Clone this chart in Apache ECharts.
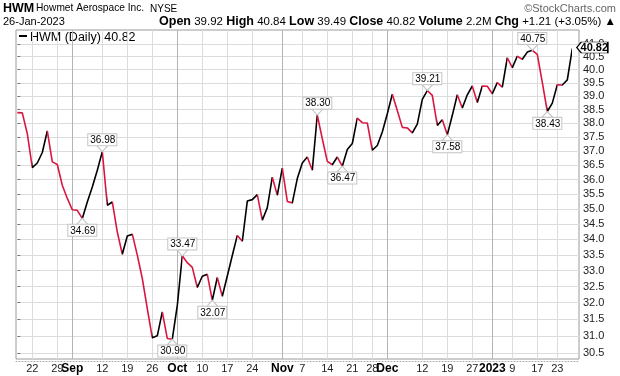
<!DOCTYPE html>
<html><head><meta charset="utf-8">
<script src="https://cdn.jsdelivr.net/npm/echarts@6/dist/echarts.min.js"></script>
<style>html,body{margin:0;padding:0;background:#fff}#c{width:620px;height:376px}</style>
</head><body><div id="c"></div>
<script>
// Trading days (categories)
const dates = [
 '2022-08-17','2022-08-18','2022-08-19','2022-08-22','2022-08-23','2022-08-24','2022-08-25','2022-08-26','2022-08-29','2022-08-30','2022-08-31',
 '2022-09-01','2022-09-02','2022-09-06','2022-09-07','2022-09-08','2022-09-09','2022-09-12','2022-09-13','2022-09-14','2022-09-15','2022-09-16',
 '2022-09-19','2022-09-20','2022-09-21','2022-09-22','2022-09-23','2022-09-26','2022-09-27','2022-09-28','2022-09-29','2022-09-30',
 '2022-10-03','2022-10-04','2022-10-05','2022-10-06','2022-10-07','2022-10-10','2022-10-11','2022-10-12','2022-10-13','2022-10-14',
 '2022-10-17','2022-10-18','2022-10-19','2022-10-20','2022-10-21','2022-10-24','2022-10-25','2022-10-26','2022-10-27','2022-10-28','2022-10-31',
 '2022-11-01','2022-11-02','2022-11-03','2022-11-04','2022-11-07','2022-11-08','2022-11-09','2022-11-10','2022-11-11',
 '2022-11-14','2022-11-15','2022-11-16','2022-11-17','2022-11-18','2022-11-21','2022-11-22','2022-11-23','2022-11-25',
 '2022-11-28','2022-11-29','2022-11-30','2022-12-01','2022-12-02','2022-12-05','2022-12-06','2022-12-07','2022-12-08','2022-12-09',
 '2022-12-12','2022-12-13','2022-12-14','2022-12-15','2022-12-16','2022-12-19','2022-12-20','2022-12-21','2022-12-22','2022-12-23',
 '2022-12-27','2022-12-28','2022-12-29','2022-12-30','2023-01-03','2023-01-04','2023-01-05','2023-01-06',
 '2023-01-09','2023-01-10','2023-01-11','2023-01-12','2023-01-13','2023-01-17','2023-01-18','2023-01-19','2023-01-20',
 '2023-01-23','2023-01-24','2023-01-25','2023-01-26'
];
// Daily closes
const closes = [
 38.39,38.38,37.62,36.42,36.58,36.95,37.72,36.62,36.53,35.81,35.36,
 34.98,34.96,34.69,35.24,35.75,36.33,36.98,35.13,35.24,34.24,33.52,
 34.11,34.17,33.49,32.75,31.82,30.94,31.00,31.72,30.92,30.90,
 31.92,33.47,33.25,33.10,32.47,32.82,32.88,32.07,32.78,32.20,
 32.83,33.48,34.13,33.94,35.27,35.32,35.49,34.63,35.05,36.09,35.47,
 36.40,35.26,35.21,36.04,36.58,36.79,36.33,38.30,37.44,
 36.64,36.52,36.79,36.47,37.06,37.27,38.19,38.02,38.01,
 37.03,37.20,37.68,38.35,39.07,38.47,37.85,37.83,37.65,37.97,
 38.88,39.21,39.03,37.92,38.13,37.58,38.29,39.05,38.56,39.05,
 39.38,38.76,39.38,39.37,39.09,39.51,39.34,40.46,
 40.08,40.52,40.40,40.68,40.75,40.59,39.52,38.43,38.74,
 39.43,39.42,39.61,40.82
];
// X tick labels
const tickDates = ['2022-08-22','2022-08-29','2022-09-01','2022-09-12','2022-09-19','2022-09-26','2022-10-03','2022-10-10','2022-10-17','2022-10-24',
 '2022-11-01','2022-11-07','2022-11-14','2022-11-21','2022-11-28','2022-12-01','2022-12-12','2022-12-19','2022-12-27','2023-01-03','2023-01-09','2023-01-17','2023-01-23'];
const tickLabels = ['22','29','Sep','12','19','26','Oct','10','17','24','Nov','7','14','21','28','Dec','12','19','27','2023','9','17','23'];
const monthLabels = ['Sep','Oct','Nov','Dec','2023'];
// Y tick labels
const yTicks = [30.5,31.0,31.5,32.0,32.5,33.0,33.5,34.0,34.5,35.0,35.5,36.0,36.5,37.0,37.5,38.0,38.5,39.0,39.5,40.0,40.5,41.0];
// Annotated highs/lows
const noteDates = ['2022-09-06','2022-09-12','2022-09-30','2022-10-04','2022-10-12','2022-11-10','2022-11-17','2022-12-13','2022-12-19','2023-01-13','2023-01-19'];
const notePos = ['bottom','top','bottom','top','bottom','top','bottom','top','bottom','top','bottom'];

const RED = '#d9163f', BLACK = '#000000';
const idx = dates.map((d,i)=>i);
const tickIdx = tickDates.map(d => dates.indexOf(d));
const lastI = closes.length - 1;

const pieces = [{lte: 0, color: RED}];
for (let i = 1; i < closes.length; i++) {
  pieces.push({gt: i-1, lte: i, color: closes[i] > closes[i-1] ? BLACK : RED});
}

const markData = noteDates.map((d,k) => {
  const i = dates.indexOf(d);
  const top = notePos[k] === 'top';
  return {
    coord: [i, closes[i]],
    symbol: top ? 'path://M0,0 L12,0 L6,6 Z' : 'path://M0,6 L12,6 L6,0 Z',
    symbolSize: [11, 6],
    symbolOffset: [0, top ? -3 : 3],
    itemStyle: {color: '#fff', borderColor: '#c4c4c4', borderWidth: 1},
    label: {
      show: true, position: top ? 'top' : 'bottom', distance: 0,
      formatter: closes[i].toFixed(2),
      fontFamily: 'Liberation Sans', fontSize: 10, color: '#000', lineHeight: 10,
      backgroundColor: '#fff', borderColor: '#c4c4c4', borderWidth: 1, padding: [1, 1, 0, 2]
    }
  };
});
markData.push({
  coord: [lastI, closes[lastI]],
  symbol: 'path://M0,5 L5,0 L34,0 L34,10 L5,10 Z',
  symbolSize: [31, 11],
  symbolOffset: [20, -1],
  itemStyle: {color: '#fff', borderColor: '#000', borderWidth: 1},
  label: {show: true, position: 'inside', offset: [2, 0], formatter: closes[lastI].toFixed(2),
    fontFamily: 'Liberation Sans', fontWeight: 'bold', fontSize: 11, color: '#000'}
});

const chart = echarts.init(document.getElementById('c'), null, {renderer: 'canvas'});
chart.setOption({
  animation: false,
  backgroundColor: '#fff',
  grid: {left: 16, right: 41, top: 30, bottom: 17, show: true, borderColor: '#9a9a9a', borderWidth: 1},
  xAxis: [{
    type: 'value', min: -0.26, max: 112.34,
    axisLine: {show: false},
    axisTick: {show: false, customValues: tickIdx},
    splitLine: {show: true, lineStyle: {width: 1, color: tickLabels.map(l => monthLabels.includes(l) ? '#b4b4b4' : '#dcdcdc')}},
    axisLabel: {
      customValues: tickIdx, margin: 4,
      fontFamily: 'Liberation Sans', fontSize: 11, color: '#222',
      formatter: v => { const k = tickIdx.indexOf(v); const t = tickLabels[k]; return monthLabels.includes(t) ? '{b|' + t + '}' : t; },
      rich: {b: {fontFamily: 'Liberation Sans', fontWeight: 'bold', fontSize: 12, color: '#000'}}
    }
  }, {
    type: 'value', min: -0.26, max: 112.34, position: 'bottom', offset: 2,
    axisLine: {show: true, lineStyle: {color: '#aaa', type: [1, 2]}},
    axisTick: {show: false}, axisLabel: {show: false}, splitLine: {show: false}
  }],
  yAxis: {
    type: 'log', position: 'right', min: 30.32, max: 41.55,
    axisLine: {show: false},
    axisTick: {show: true, customValues: yTicks, length: 3, lineStyle: {color: '#777'}},
    splitLine: {show: true, lineStyle: {color: '#dcdcdc', width: 1}},
    axisLabel: {customValues: yTicks, margin: 4, fontFamily: 'Liberation Sans', fontSize: 11, color: '#222',
      formatter: v => Number(v).toFixed(1)}
  },
  visualMap: {type: 'piecewise', show: false, dimension: 0, seriesIndex: 0, pieces: pieces},
  series: [{
    type: 'line', symbol: 'none', data: idx.map(i => [i, closes[i]]),
    lineStyle: {width: 1.6}, z: 3,
    markPoint: {silent: true, data: markData, z: 5}
  }],
  graphic: [
    {type: 'text', left: 3, top: 2, style: {text: 'HWM', font: 'bold 12.5px "Liberation Sans"', fill: '#000'}},
    {type: 'text', left: 36, top: 3, style: {text: 'Howmet Aerospace Inc.', font: '10.2px "Liberation Sans"', fill: '#000'}},
    {type: 'text', left: 150, top: 4, style: {text: 'NYSE', font: '10px "Liberation Sans"', fill: '#000'}},
    {type: 'text', right: 4, top: 3, style: {text: '\u00A9StockCharts.com', font: '11px "Liberation Sans"', fill: '#666'}},
    {type: 'text', left: 3, top: 16, style: {text: '26-Jan-2023', font: '11px "Liberation Sans"', fill: '#000'}},
    {type: 'text', right: 4, top: 15, style: {
      rich: {b: {font: 'bold 12.5px "Liberation Sans"', fill: '#000'}, n: {font: '11.5px "Liberation Sans"', fill: '#000'}},
      text: '{b|Open}{n| 39.92 }{b|High}{n| 40.84 }{b|Low}{n| 39.49 }{b|Close}{n| 40.82 }{b|Volume}{n| 2.2M }{b|Chg}{n| +1.21 (+3.05%) \u25B2}'
    }},
    {type: 'rect', left: 19, top: 35, shape: {width: 8, height: 2}, style: {fill: '#000'}},
    {type: 'text', left: 30, top: 31, style: {text: 'HWM (Daily) 40.82', font: '12.5px "Liberation Sans"', fill: '#000'}}
  ]
});
</script>
</body></html>
